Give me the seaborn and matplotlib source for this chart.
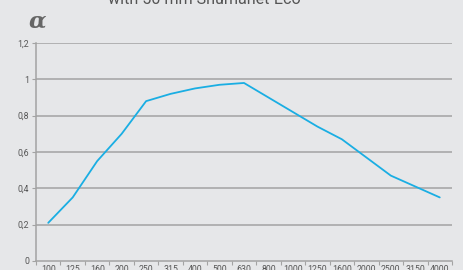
import seaborn as sns
import matplotlib as mpl
import matplotlib.pyplot as plt
import pandas as pd
import numpy as np

mpl.use('Agg')

freqs = ["100", "125", "160", "200", "250", "315", "400", "500", "630",
         "800", "1000", "1250", "1600", "2000", "2500", "3150", "4000"]
alpha = [0.21, 0.35, 0.55, 0.70, 0.88, 0.92, 0.95, 0.97, 0.98,
         0.90, 0.82, 0.74, 0.67, 0.57, 0.47, 0.41, 0.35]
yticks = [0, 0.2, 0.4, 0.6, 0.8, 1.0, 1.2]
ylabels = ["0", "0,2", "0,4", "0,6", "0,8", "1", "1,2"]

bg = "#e6e7e9"
grid = "#a3a3a3"
txt = "#555555"

sns.set_theme(style="white")
plt.rcParams['font.family'] = ['Roboto', 'DejaVu Sans']

df = pd.DataFrame({"f": freqs, "a": alpha})

fig = plt.figure(figsize=(4.64, 2.70), dpi=100, facecolor=bg)
ax = fig.add_axes([36/464, 1-261/270, (452-36)/464, (261-43)/270])
ax.set_facecolor(bg)

sns.lineplot(data=df, x="f", y="a", color="#1aaee3", linewidth=1.3, ax=ax, sort=False)

ax.set_xlim(-0.5, len(freqs)-0.5)
ax.set_ylim(0, 1.2)
ax.set_yticks(yticks)
ax.set_yticklabels(ylabels)
for y in yticks[1:]:
    ax.axhline(y, color=grid, lw=1.1, zorder=0)

ax.set_xticks(range(len(freqs)))
ax.set_xticklabels(freqs)
ax.set_xticks(np.arange(-0.5, len(freqs)), minor=True)
ax.tick_params(axis='x', which='major', length=0, labelsize=6.3, colors=txt, pad=3)
ax.tick_params(axis='x', which='minor', length=3, width=0.8, color=grid, bottom=True)
ax.tick_params(axis='y', length=3, width=0.8, color=grid, labelsize=6.3, labelcolor=txt, pad=2, left=True)

for s in ["top", "right"]:
    ax.spines[s].set_visible(False)
for s in ["left", "bottom"]:
    ax.spines[s].set_color(grid)
    ax.spines[s].set_linewidth(1.1)

ax.set_xlabel("")
ax.set_ylabel("")

fig.text(204/464, 1-4/270, "with 50 mm Shumanet-Eco", ha="center", va="baseline",
         fontsize=11.6, color=txt)
fig.text(29/464, 1-27/270, "α", ha="left", va="baseline", fontsize=16.5,
         family="DejaVu Serif", fontweight="bold", style="italic", color="#666666")

plt.savefig("out.png", dpi=100, facecolor=bg)
